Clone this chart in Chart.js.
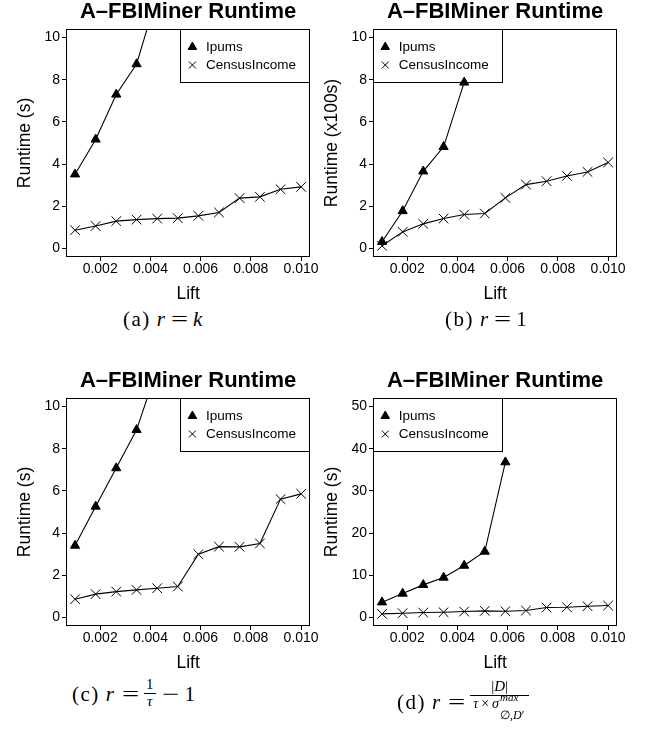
<!DOCTYPE html>
<html><head><meta charset="utf-8">
<script src="https://cdn.jsdelivr.net/npm/chart.js@4.4.1/dist/chart.umd.min.js"></script>
<style>
html,body{margin:0;padding:0;background:#fff;}
body{width:655px;height:732px;position:relative;overflow:hidden;}
canvas{position:absolute;}
.cap{position:absolute;font-family:"Liberation Serif","DejaVu Serif",serif;font-size:21px;line-height:21px;white-space:nowrap;color:#000;}
.cap i{font-style:italic;}
.lbl{letter-spacing:1.5px;}
.g{display:inline-block;}
.eq{display:inline-block;width:17px;text-align:center;transform:scaleX(1.45);}
.frac{display:inline-block;text-align:center;font-size:15px;line-height:15px;margin:0;}
.frac .num{display:block;border-bottom:1px solid #000;padding:0 2px 1px;}
.frac .den{display:block;padding:0 3px;}
.frac .den.d{font-size:14px;}
.tx{display:inline-block;margin:0 3px;}
.ss{display:inline-block;position:relative;width:27px;height:1px;vertical-align:baseline;}
.sp,.sb{position:absolute;left:1px;white-space:nowrap;}
.sp{top:-15.3px;font-size:11px;line-height:11px;}
.sb{top:1.8px;font-size:12px;line-height:12px;}
</style></head><body>
<canvas id="ca" width="320" height="305" style="left:0;top:0"></canvas>
<canvas id="cb" width="320" height="305" style="left:307px;top:0"></canvas>
<canvas id="cc" width="320" height="305" style="left:0;top:369px"></canvas>
<canvas id="cd" width="320" height="305" style="left:307px;top:369px"></canvas>

<div class="cap" style="left:123px;top:309px"><span class="lbl">(a)</span><span class="g" style="width:6px"></span><i>r</i><span class="g" style="width:6px"></span><span class="eq">=</span><span class="g" style="width:5px"></span><i>k</i></div>
<div class="cap" style="left:445px;top:309px"><span class="lbl">(b)</span><span class="g" style="width:6px"></span><i>r</i><span class="g" style="width:6px"></span><span class="eq">=</span><span class="g" style="width:5px"></span>1</div>
<div class="cap" style="left:72px;top:677px"><span class="lbl">(c)</span><span class="g" style="width:6px"></span><i>r</i><span class="g" style="width:8px"></span><span class="eq">=</span><span class="g" style="width:5px"></span><span class="frac" style="vertical-align:-5px"><span class="num">1</span><span class="den"><i>τ</i></span></span><span class="g" style="width:6px"></span><span class="eq">−</span><span class="g" style="width:6px"></span>1</div>
<div class="cap" style="left:397px;top:679px"><span class="lbl">(d)</span><span class="g" style="width:6px"></span><i>r</i><span class="g" style="width:8px"></span><span class="eq">=</span><span class="g" style="width:5px"></span><span class="frac" style="vertical-align:1px"><span class="num">|<i>D</i>|</span><span class="den d"><i>τ</i><span class="tx">×</span><i>σ</i><span class="ss"><i class="sp">max</i><span class="sb">∅,<i>D</i>′</span></span></span></span></div>

<script>
// ---- data ----
const lift = [0.001, 0.00182, 0.00264, 0.00345, 0.00427, 0.00509, 0.00591, 0.00673, 0.00755, 0.00836, 0.00918, 0.010];
const xTicks = [0.002, 0.004, 0.006, 0.008, 0.010];
const yTicks10 = [0, 2, 4, 6, 8, 10];
const yTicks50 = [0, 10, 20, 30, 40, 50];
const seriesNames = ['Ipums', 'CensusIncome'];
const chartTitle = 'A–FBIMiner Runtime';

const ipumsA  = [3.52, 5.17, 7.30, 8.74, 12.0];
const censusA = [0.87, 1.07, 1.30, 1.37, 1.42, 1.44, 1.55, 1.71, 2.39, 2.45, 2.81, 2.92];
const ipumsB  = [0.32, 1.78, 3.66, 4.82, 7.87];
const censusB = [0.13, 0.79, 1.17, 1.42, 1.61, 1.66, 2.40, 3.03, 3.19, 3.44, 3.63, 4.08];
const ipumsC  = [3.41, 5.26, 7.08, 8.89, 11.8];
const censusC = [0.87, 1.11, 1.23, 1.31, 1.39, 1.47, 3.00, 3.36, 3.35, 3.51, 5.61, 5.86];
const ipumsD  = [3.63, 5.69, 7.74, 9.48, 12.32, 15.64, 36.8];
const censusD = [0.87, 1.03, 1.18, 1.26, 1.42, 1.58, 1.50, 1.66, 2.37, 2.45, 2.69, 2.84];

const FONT = '"Liberation Sans", Arial, Helvetica, sans-serif';

const frameLegend = {
  id: 'frameLegend',
  afterLayout(chart, args, opts) {
    const lg = chart.legend, ca = chart.chartArea;
    if (!lg) return;
    const fx = opts.side === 'right' ? ca.right - opts.w : ca.left;
    lg.left = fx + 1; lg.right = lg.left + opts.w;
    lg.top = ca.top + 6.75; lg.bottom = lg.top + 200;
  },
  afterDraw(chart, args, opts) {
    const ca = chart.chartArea, ctx = chart.ctx;
    ctx.save();
    ctx.strokeStyle = '#000';
    ctx.lineWidth = 1;
    const l = Math.round(ca.left), t = Math.round(ca.top), r = Math.round(ca.right), b = Math.round(ca.bottom);
    ctx.strokeRect(l + 0.5, t + 0.5, r - l - 1, b - t - 1);
    const fx = opts.side === 'right' ? r - opts.w : l;
    ctx.strokeRect(fx + 0.5, t + 0.5, opts.w - 1, opts.h);
    ctx.restore();
  }
};

function pts(vals) { return vals.map((v, i) => ({x: lift[i], y: v})); }

function makeChart(id, ipums, census, yMin, yMax, yTicks, yTitle, side) {
  const tickFont = {family: FONT, size: 14, lineHeight: 1};
  const titleFont = {family: FONT, size: 17.5, lineHeight: 1};
  const grid = {display: true, drawOnChartArea: false, drawTicks: true, tickLength: 4, color: '#000', lineWidth: 1};
  return new Chart(document.getElementById(id), {
    type: 'line',
    data: {
      datasets: [
        {label: seriesNames[0], data: pts(ipums), borderColor: '#000', backgroundColor: '#000', borderWidth: 1.1,
         pointStyle: 'triangle', pointRadius: 5.3, pointHoverRadius: 5.3, pointBackgroundColor: '#000',
         pointBorderColor: '#000', pointBorderWidth: 1, fill: false, tension: 0, clip: 0},
        {label: seriesNames[1], data: pts(census), borderColor: '#000', backgroundColor: '#000', borderWidth: 1.1,
         pointStyle: 'crossRot', pointRadius: 6.8, pointHoverRadius: 6.8, pointBackgroundColor: 'rgba(0,0,0,0)',
         pointBorderColor: '#000', pointBorderWidth: 1, fill: false, tension: 0, clip: 0}
      ]
    },
    options: {
      responsive: false, animation: false, events: [],
      layout: {padding: {left: 0, right: 8, top: 0, bottom: 0}},
      scales: {
        x: {
          type: 'linear', min: 0.00064, max: 0.01036,
          afterBuildTicks: a => { a.ticks = xTicks.map(v => ({value: v})); },
          afterFit: a => { a.height = 48; },
          ticks: {callback: v => Number(v).toFixed(3), font: tickFont, color: '#000', padding: 1, maxRotation: 0, autoSkip: false},
          grid: grid, border: {display: false},
          title: {display: true, text: 'Lift', font: titleFont, color: '#000', padding: {top: 0, bottom: 1.75}}
        },
        y: {
          type: 'linear', min: yMin, max: yMax,
          afterBuildTicks: a => { a.ticks = yTicks.map(v => ({value: v})); },
          afterFit: a => { a.width = 66; },
          ticks: {callback: v => String(v), font: tickFont, color: '#000', padding: 2, autoSkip: false},
          grid: grid, border: {display: false},
          title: {display: true, text: yTitle, font: titleFont, color: '#000', padding: {top: 16.5, bottom: 0}}
        }
      },
      plugins: {
        title: {display: true, text: chartTitle, fullSize: false, color: '#000',
                font: {family: FONT, size: 22, weight: 'bold', lineHeight: 1}, padding: {top: 0.5, bottom: 6.5}},
        legend: {display: true, position: 'chartArea', align: 'start',
                 labels: {usePointStyle: true, boxHeight: 7, font: {family: FONT, size: 13.5}, color: '#000', padding: 4.5, textAlign: 'left'}},
        tooltip: {enabled: false},
        frameLegend: {side: side, w: 130, h: 53}
      }
    },
    plugins: [frameLegend]
  });
}

makeChart('ca', ipumsA, censusA, -0.4, 10.4, yTicks10, 'Runtime (s)', 'right');
makeChart('cb', ipumsB, censusB, -0.4, 10.4, yTicks10, 'Runtime (x100s)', 'left');
makeChart('cc', ipumsC, censusC, -0.4, 10.4, yTicks10, 'Runtime (s)', 'right');
makeChart('cd', ipumsD, censusD, -2, 52, yTicks50, 'Runtime (s)', 'left');
</script>
</body></html>
